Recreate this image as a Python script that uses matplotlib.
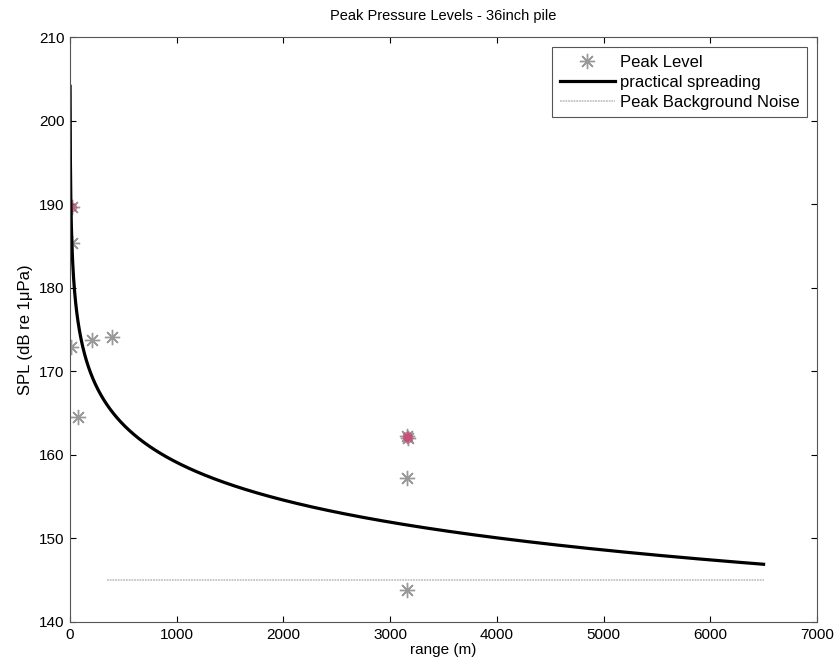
import numpy as np
from matplotlib import pyplot as plt

plt.rcParams['font.family'] = ['Liberation Sans', 'DejaVu Sans']

# measured peak levels (range in m, SPL in dB re 1uPa)
peak_range = [20, 20, 5, 206, 394, 75, 3160, 3165, 3160, 3160]
peak_level = [189.7, 185.3, 172.9, 173.7, 174.1, 164.5, 162.3, 162.0, 157.2, 143.8]
peak_red = [True, False, False, False, False, False, True, True, False, False]

# practical spreading model: SPL = SL - 15 log10(r)
source_level = 204.1
spread_coef = 15
model_range = np.arange(1, 6501)

# background noise
noise_range = [350, 6500]
noise_level = [145, 145]

fig = plt.figure(figsize=(8.37, 6.68), dpi=100)
ax = fig.add_axes([0.0836, 0.0689, 0.8924, 0.8757])

ax.plot(peak_range, peak_level, linestyle='none', marker=(8, 2, 0), markersize=11,
        color='#999999', markeredgewidth=1.0, label='Peak Level')
red_r = [r for r, f in zip(peak_range, peak_red) if f]
red_l = [l for l, f in zip(peak_level, peak_red) if f]
ax.plot(red_r, red_l, linestyle='none', marker='o', markersize=6, color='#d04070', alpha=0.5)

ax.plot(model_range, source_level - spread_coef * np.log10(model_range), color='black',
        linewidth=2.3, label='practical spreading')
ax.plot(noise_range, noise_level, color='#c4c4c4', linestyle=':', linewidth=1.3,
        dashes=(1, 0.5), label='Peak Background Noise')

ax.set_xlim(0, 7000)
ax.set_ylim(140, 210)
ax.set_xticks(np.arange(0, 7001, 1000))
ax.set_yticks(np.arange(140, 211, 10))
ax.tick_params(direction='in', top=True, right=True, labelsize=11, length=4, pad=4)
for s in ax.spines.values():
    s.set_color('#555555')

ax.set_title('Peak Pressure Levels - 36inch pile', fontsize=10.5, pad=12)
ax.set_xlabel('range (m)', fontsize=11, labelpad=1)
ax.set_ylabel('SPL (dB re 1\u03bcPa)', fontsize=12, labelpad=4)

leg = ax.legend(loc='upper right', fontsize=12, fancybox=False, framealpha=1,
                edgecolor='#555555', borderaxespad=0.6, handlelength=3.3,
                handletextpad=0.3, labelspacing=0.3, borderpad=0.45)
leg.get_frame().set_linewidth(0.8)

plt.savefig('out.png', dpi=100)
